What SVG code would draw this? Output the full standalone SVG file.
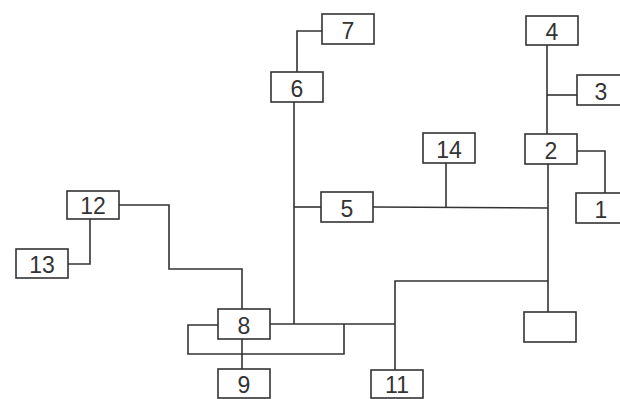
<svg xmlns="http://www.w3.org/2000/svg" width="620" height="399" viewBox="0 0 620 399">
<style>
.b{fill:#fff;stroke:#333;stroke-width:1.6}
.c{fill:none;stroke:#333;stroke-width:1.6}
.t{font-family:"Liberation Sans",Arial,sans-serif;font-size:23px;fill:#333;text-anchor:middle}
</style>
<rect width="620" height="399" fill="#fff"/>
<g id="connectors" class="c">
<polyline points="297,72 297,31 322,31"/>
<polyline points="294,102 294,324"/>
<line x1="294" y1="207" x2="321" y2="207"/>
<line x1="547" y1="45" x2="547" y2="134"/>
<line x1="547" y1="95" x2="577" y2="95"/>
<polyline points="577,151 605,151 605,193"/>
<line x1="548" y1="164" x2="548" y2="312"/>
<line x1="373" y1="207" x2="548" y2="208"/>
<line x1="446" y1="163" x2="446" y2="207"/>
<polyline points="548,281 395,281 395,370"/>
<line x1="267" y1="324" x2="395" y2="324"/>
<polyline points="218,325 188,325 188,354 344,354 344,324"/>
<line x1="242" y1="339" x2="242" y2="369"/>
<polyline points="119,205 169,205 169,269 242,269 242,309"/>
<polyline points="90,219 90,264 68,264"/>
</g>
<g id="n7"><rect class="b" x="322" y="14" width="52" height="30"/><text class="t" x="348" y="39">7</text></g>
<g id="n6"><rect class="b" x="271" y="72" width="52" height="30"/><text class="t" x="297" y="97">6</text></g>
<g id="n4"><rect class="b" x="526" y="16" width="52" height="29"/><text class="t" x="552" y="40">4</text></g>
<g id="n3"><rect class="b" x="577" y="75" width="52" height="30"/><text class="t" x="601" y="100">3</text></g>
<g id="n14"><rect class="b" x="423" y="133" width="52" height="30"/><text class="t" x="449" y="158">14</text></g>
<g id="n2"><rect class="b" x="525" y="134" width="52" height="30"/><text class="t" x="551" y="159">2</text></g>
<g id="n1"><rect class="b" x="576" y="193" width="52" height="30"/><text class="t" x="601" y="218">1</text></g>
<g id="n5"><rect class="b" x="321" y="192" width="52" height="30"/><text class="t" x="347" y="217">5</text></g>
<g id="n12"><rect class="b" x="67" y="191" width="52" height="28"/><text class="t" x="93" y="214">12</text></g>
<g id="n13"><rect class="b" x="16" y="249" width="52" height="29"/><text class="t" x="42" y="273">13</text></g>
<g id="n8"><rect class="b" x="218" y="309" width="52" height="30"/><text class="t" x="244" y="334">8</text></g>
<g id="n9"><rect class="b" x="218" y="369" width="52" height="29"/><text class="t" x="244" y="393">9</text></g>
<g id="n11"><rect class="b" x="371" y="370" width="52" height="28"/><text class="t" x="397" y="393">11</text></g>
<g id="n0"><rect class="b" x="524" y="312" width="52" height="30"/></g>
</svg>
